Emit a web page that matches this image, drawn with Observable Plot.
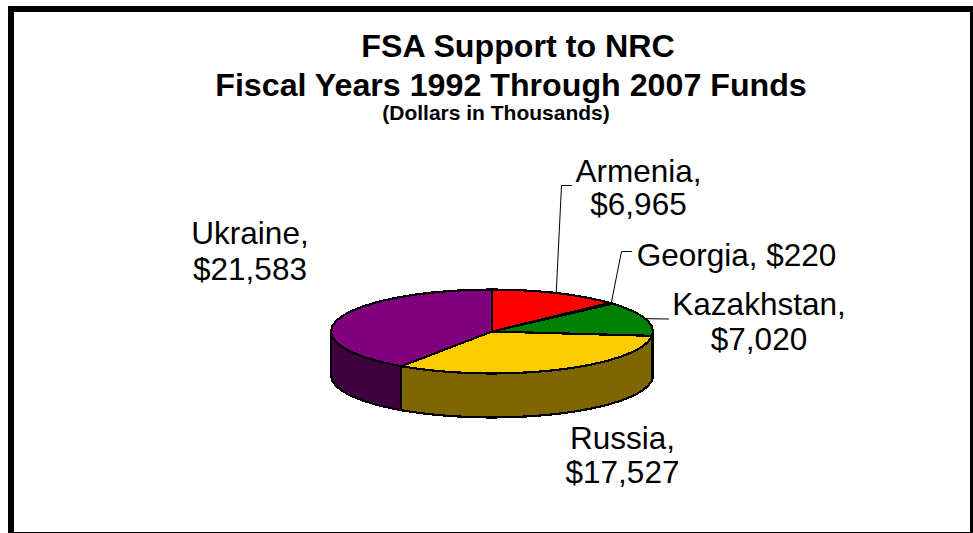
<!DOCTYPE html>
<html>
<head>
<meta charset="utf-8">
<script src="https://cdn.jsdelivr.net/npm/d3@7"></script>
<script src="https://cdn.jsdelivr.net/npm/@observablehq/plot@0.6"></script>
<style>
  html, body { margin: 0; padding: 0; background: #fff; overflow: hidden; }
  #frame {
    position: absolute; left: 8px; top: 6px; width: 956px; height: 520px;
    border: solid #000; border-width: 6px 3px 1px 6px; background: #fff;
    font-family: "Liberation Sans", Arial, sans-serif; color: #000;
  }
  #heading { height: 112px; position: relative; font-weight: bold; }
  #heading div { position: absolute; transform: translateX(-50%); white-space: nowrap; }
  #t1 { left: 504px; top: 16.5px; font-size: 32.2px; line-height: 34px; }
  #t2 { left: 497px; top: 57.8px; font-size: 32.2px; line-height: 30px; }
  #t3 { left: 482px; top: 90.7px; font-size: 21px; line-height: 20px; }
  svg { display: block; }
</style>
</head>
<body>
<div id="frame">
  <div id="heading">
    <div id="t1">FSA Support to NRC</div>
    <div id="t2">Fiscal Years 1992 Through 2007 Funds</div>
    <div id="t3">(Dollars in Thousands)</div>
  </div>
  <div id="chart"></div>
</div>
<script>
// Funds by recipient, in thousands of dollars, clockwise from twelve o'clock
const countries = ["Armenia", "Georgia", "Kazakhstan", "Russia", "Ukraine"];
const amounts = [6965, 220, 7020, 17527, 21583];
const faceColors = ["#ff0000", "#c8641e", "#008000", "#ffcc00", "#800080"];
const sideColors = ["#800000", "#64320f", "#004000", "#806600", "#400040"];

// Label placement in SVG pixels, with the elbow of each leader where one is drawn
const labelSpots = [
  {text: d => `${d.name},\n${d.fmt}`, px: 624, py: 63.4, lead: 1.06, elbow: [[547, 61], [557, 61]]},
  {text: d => `${d.name}, ${d.fmt}`, px: 722, py: 131, lead: 1, elbow: [[607, 127], [617, 127]]},
  {text: d => `${d.name},\n${d.fmt}`, px: 744.5, py: 196.5, lead: 1.11, elbow: [[654, 194.5]]},
  {text: d => `${d.name},\n${d.fmt}`, px: 608, py: 331, lead: 1.08, elbow: null},
  {text: d => `${d.name},\n${d.fmt}`, px: 235.5, py: 126, lead: 1.16, elbow: null}
];

const svgWidth = 956, svgHeight = 408;
const left = 316.5, right = 638.5, top_ = 165, bottom = 249, thickness = 44;

const total = d3.sum(amounts);
const fmt = d3.format("$,");
const rad = deg => deg * Math.PI / 180;
const rim = deg => ({x: Math.sin(rad(deg)), y: -Math.cos(rad(deg))});
const unitsPerPx = 2 / (bottom - top_);
const pxX = v => (v - left) / (right - left) * 2 - 1;
const pxY = v => (v - top_) * unitsPerPx - 1;
const drop = thickness * unitsPerPx;

// The rim is faceted in even steps, with each slice's own bounds added
const facet = 7.5;
function arcAngles(a, b) {
  const out = [a];
  for (let k = Math.ceil(a / facet + 1e-6); k * facet < b - 1e-6; k++) out.push(k * facet);
  out.push(b);
  return out;
}

let run = 0;
const slices = countries.map((name, i) => {
  const start = run / total * 360;
  run += amounts[i];
  const end = run / total * 360;
  return {name, value: amounts[i], fmt: fmt(amounts[i]), start, end, mid: (start + end) / 2, face: faceColors[i], side: sideColors[i], spot: labelSpots[i]};
});

const facePoints = s => {
  const arc = arcAngles(s.start, s.end).map(rim);
  return [{x: 0, y: 0}, ...arc, {x: 0, y: 0}];
};
// Wall of a slice: only the part of its rim on the near half of the pie shows
const sidePoints = s => {
  const a = Math.max(s.start, 90), b = Math.min(s.end, 270);
  if (a >= b) return null;
  const arc = arcAngles(a, b).map(rim);
  const low = arc.map(p => ({x: p.x, y: p.y + drop})).reverse();
  return [...arc, ...low, arc[0]];
};

const common = {x: "x", y: "y", stroke: "#000", strokeWidth: 2.2, curve: "linear-closed", shapeRendering: "crispEdges"};

const marks = [];
for (const s of slices) {
  const pts = sidePoints(s);
  if (pts) marks.push(Plot.line(pts, {...common, fill: s.side}));
}
for (const s of slices) {
  marks.push(Plot.line(facePoints(s), {...common, fill: s.face}));
}
// Leaders start on the rim at each slice's middle angle
for (const s of slices) {
  if (!s.spot.elbow) continue;
  const path = [rim(s.mid), ...s.spot.elbow.map(([a, b]) => ({x: pxX(a), y: pxY(b)}))];
  marks.push(Plot.line(path, {x: "x", y: "y", stroke: "#000", strokeWidth: 1, curve: "linear"}));
}
for (const s of slices) {
  marks.push(Plot.text([s], {
    x: () => pxX(s.spot.px),
    y: () => pxY(s.spot.py),
    text: s.spot.text,
    textAnchor: "middle",
    lineAnchor: "middle",
    lineHeight: s.spot.lead,
    fontSize: 31.5,
    fontFamily: "Liberation Sans, Arial, sans-serif",
    fill: "#000"
  }));
}

document.getElementById("chart").append(Plot.plot({
  width: svgWidth,
  height: svgHeight,
  margin: 0,
  style: {background: "transparent", overflow: "visible"},
  x: {domain: [-1, 1], range: [left, right], axis: null},
  y: {domain: [-1, 1], range: [top_, bottom], axis: null},
  marks
}));
</script>
</body>
</html>
